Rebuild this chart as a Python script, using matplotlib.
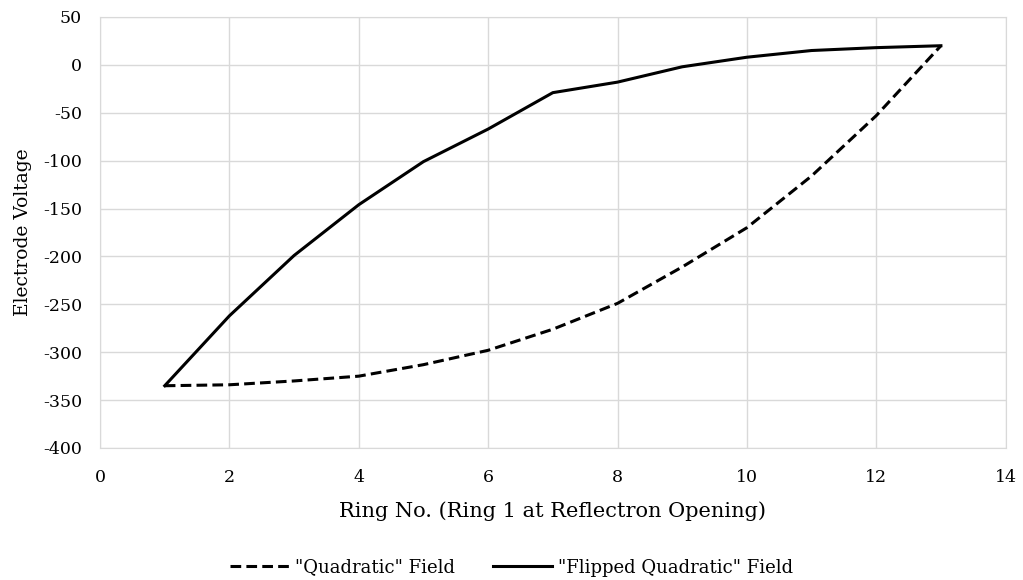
import matplotlib
matplotlib.use("Agg")
import matplotlib.pyplot as plt

rings = [1, 2, 3, 4, 5, 6, 7, 8, 9, 10, 11, 12, 13]
quadratic = [-335, -334, -330, -325, -313, -298, -276, -249, -211, -170, -116, -53, 20]
flipped = [-335, -262, -199, -146, -101, -67, -29, -18, -2, 8, 15, 18, 20]

plt.rcParams['font.family'] = ['DejaVu Serif']
plt.rcParams['axes.unicode_minus'] = False
fig = plt.figure(figsize=(10.23, 5.8), dpi=100)
ax = fig.add_axes([0.0978, 0.2276, 0.8852, 0.7431])

ax.plot(rings, quadratic, color='black', lw=2.2, ls=(0, (3.5, 1.7)), label='"Quadratic" Field')
ax.plot(rings, flipped, color='black', lw=2.2, ls='-', label='"Flipped Quadratic" Field')

ax.set_xlim(0, 14)
ax.set_ylim(-400, 50)
ax.set_xticks(range(0, 15, 2))
ax.set_yticks(range(-400, 51, 50))
ax.grid(True, color='#d9d9d9', lw=1)
ax.set_axisbelow(True)
for s in ax.spines.values():
    s.set_color('#d9d9d9')
ax.tick_params(length=0, labelsize=12.5)
ax.tick_params(axis='x', pad=15)
ax.tick_params(axis='y', pad=13)
ax.set_xlabel('Ring No. (Ring 1 at Reflectron Opening)', fontsize=15, labelpad=11)
ax.set_ylabel('Electrode Voltage', fontsize=13.5, labelpad=8)

fig.legend(loc='lower center', bbox_to_anchor=(0.5, -0.022), ncol=2, frameon=False,
           fontsize=13, handlelength=3.3, handletextpad=0.3, columnspacing=2.1)
fig.savefig('out.png', dpi=100)
